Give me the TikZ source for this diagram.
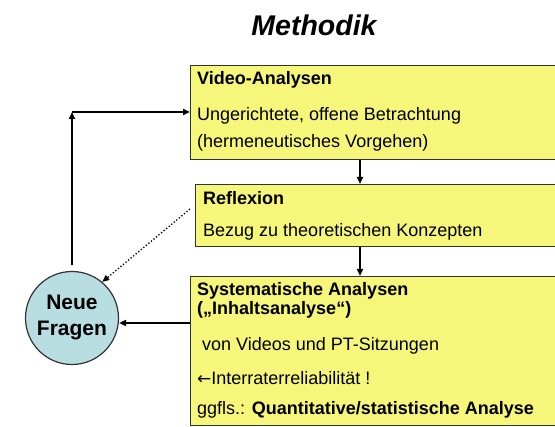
\documentclass[tikz,border=0pt]{standalone}
\usepackage{fontspec}
\setmainfont{Liberation Sans}
\newfontfamily\arrowfont{DejaVu Sans}
\usetikzlibrary{arrows.meta}
\definecolor{boxyellow}{RGB}{246,246,122}
\definecolor{circblue}{RGB}{184,222,226}
\definecolor{edgegray}{RGB}{50,50,50}
\tikzset{
  ybox/.style={draw=edgegray, line width=1.4pt, fill=boxyellow, rectangle, anchor=north west, inner sep=0pt},
  txt/.style={anchor=base west, inner sep=0pt, font=\fontsize{18}{22}\selectfont},
  btxt/.style={txt, font=\fontsize{18}{22}\selectfont\bfseries},
  conn/.style={line width=2pt, -{Triangle[length=7pt,width=6pt]}},
  dconn/.style={line width=1.3pt, dotted, -{Triangle[length=7pt,width=6pt]}},
}
\begin{document}
\begin{tikzpicture}[x=1pt,y=-1pt]
\useasboundingbox (0,0) rectangle (555,427);
\clip (0,0) rectangle (555,427);
% title
\node[anchor=base, inner sep=0pt, font=\fontsize{28.5}{32}\selectfont\bfseries\itshape] (title) at (314,36) {Methodik};
% boxes
\node[ybox, minimum width=380pt, minimum height=94pt] (box1) at (190,65) {};
\node[ybox, minimum width=380pt, minimum height=62pt] (box2) at (195,184) {};
\node[ybox, minimum width=380pt, minimum height=149pt] (box3) at (190,276) {};
% box1 text
\node[btxt] (t11) at (197,85) {Video-Analysen};
\node[txt] (t12) at (197,121) {Ungerichtete, offene Betrachtung};
\node[txt] (t13) at (197,148) {(hermeneutisches Vorgehen)};
% box2 text
\node[btxt] (t21) at (203,205) {Reflexion};
\node[txt] (t22) at (203,237) {Bezug zu theoretischen Konzepten};
% box3 text
\node[btxt] (t31) at (197,296) {Systematische Analysen};
\node[btxt] (t32) at (197,315) {(„Inhaltsanalyse“)};
\node[txt] (t33) at (202,351) {von Videos und PT-Sitzungen};
\node[txt] (t34) at (197,385) {{\arrowfont\fontsize{17}{20}\selectfont ←}Interraterreliabilität !};
\node[txt] (t35) at (197,415) {ggfls.: \textbf{Quantitative/statistische Analyse}};
% circle
\node[circle, draw=edgegray, line width=1.2pt, fill=circblue, minimum size=93pt, inner sep=0pt, align=center,
      font=\fontsize{21}{26}\selectfont\bfseries] (nf) at (72,318) {Neue\\Fragen};
% connectors
\coordinate (corner) at (72,112);
\draw[conn] ([yshift=6pt]nf.north) -- (corner);
\draw[conn] (corner) -- (box1.west |- corner);
\draw[conn] (360,0 |- box1.south) -- (360,0 |- box2.north);
\draw[conn] (360,0 |- box2.south) -- (360,0 |- box3.north);
\draw[conn] (box3.west |- 0,323) -- (nf.east |- 0,323);
\coordinate (dstart) at (190,209);
\draw[dconn] (dstart) -- (nf.50);
\end{tikzpicture}
\end{document}
